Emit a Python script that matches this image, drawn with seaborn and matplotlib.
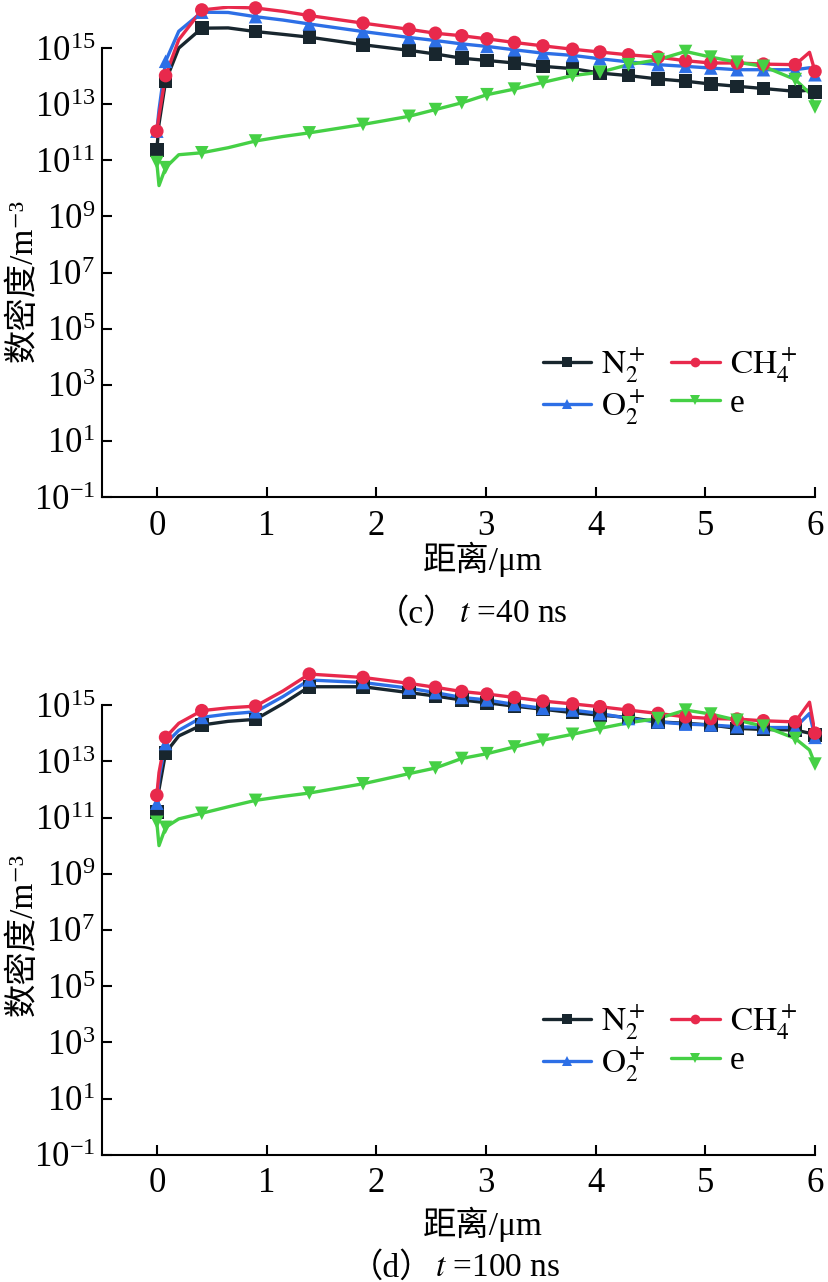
import numpy as np
import pandas as pd
import seaborn as sns
import matplotlib
matplotlib.use('Agg')
import matplotlib.pyplot as plt
from matplotlib.lines import Line2D

# positions along the gap (um); markers only where has_marker is True
x_um = [0, 0.02, 0.08, 0.2, 0.41, 0.65, 0.9, 1.15, 1.39, 1.88, 2.3, 2.54, 2.78,
        3.01, 3.26, 3.52, 3.79, 4.04, 4.3, 4.57, 4.82, 5.05, 5.29, 5.53, 5.82, 5.95, 6.0]
has_marker = [True, False, True, False, True, False, True, False] + [True] * 17 + [False, True]

species = ['$\\mathrm{N}_2^+$', '$\\mathrm{O}_2^+$', '$\\mathrm{CH}_4^+$', 'e']
colors = ['#18262e', '#2d6fe6', '#e8294c', '#45d045']
marker_shapes = ['s', '^', 'o', 'v']

# (c) t = 40 ns, log10 of number density
c_n2 = [11.37, 12.3, 13.82, 15.0, 15.71, 15.72, 15.59, 15.49, 15.39, 15.12, 14.92, 14.79, 14.64,
        14.56, 14.47, 14.35, 14.27, 14.11, 14.02, 13.90, 13.82, 13.72, 13.64, 13.56, 13.46, 13.5, 13.43]
c_o2 = [12.04, 12.8, 14.53, 15.6, 16.28, 16.27, 16.12, 16.0, 15.86, 15.59, 15.38, 15.27, 15.15,
        15.06, 14.94, 14.82, 14.74, 14.62, 14.51, 14.41, 14.35, 14.29, 14.23, 14.23, 14.23, 14.3, 14.05]
c_ch4 = [12.04, 12.6, 14.02, 15.3, 16.36, 16.46, 16.43, 16.31, 16.16, 15.89, 15.67, 15.53, 15.44,
         15.33, 15.20, 15.08, 14.96, 14.86, 14.76, 14.68, 14.55, 14.47, 14.47, 14.43, 14.41, 14.85, 14.17]
c_e = [10.92, 10.1, 10.74, 11.2, 11.27, 11.45, 11.69, 11.85, 11.98, 12.28, 12.57, 12.81, 13.05,
       13.34, 13.54, 13.78, 14.02, 14.14, 14.41, 14.59, 14.88, 14.68, 14.50, 14.35, 13.88, 13.4, 12.9]

# (d) t = 100 ns
d_n2 = [11.19, 12.0, 13.30, 13.9, 14.29, 14.42, 14.49, 15.05, 15.65, 15.65, 15.44, 15.32, 15.18,
        15.08, 14.96, 14.85, 14.73, 14.64, 14.56, 14.40, 14.35, 14.29, 14.17, 14.13, 14.11, 14.0, 13.93]
d_o2 = [11.51, 12.4, 13.63, 14.1, 14.56, 14.68, 14.76, 15.3, 15.89, 15.80, 15.60, 15.44, 15.27,
        15.18, 15.02, 14.88, 14.82, 14.70, 14.52, 14.40, 14.32, 14.29, 14.23, 14.20, 14.20, 14.7, 13.85]
d_ch4 = [11.79, 12.6, 13.85, 14.35, 14.80, 14.9, 14.96, 15.5, 16.10, 15.98, 15.77, 15.63, 15.48,
         15.39, 15.27, 15.14, 15.04, 14.94, 14.82, 14.70, 14.58, 14.52, 14.50, 14.44, 14.40, 15.1, 14.0]
d_e = [10.83, 10.0, 10.65, 10.95, 11.15, 11.38, 11.61, 11.75, 11.87, 12.20, 12.56, 12.76, 13.10,
       13.27, 13.51, 13.75, 13.96, 14.17, 14.37, 14.52, 14.82, 14.68, 14.46, 14.25, 13.81, 13.4, 12.9]

xticks = [0, 1, 2, 3, 4, 5, 6]
ytick_exps = [-1, 1, 3, 5, 7, 9, 11, 13, 15]

sns.set_style('ticks')
plt.rcParams['font.family'] = ['Liberation Serif', 'Noto Sans CJK SC', 'DejaVu Sans']
plt.rcParams['mathtext.fontset'] = 'stix'
for k in ['text.color', 'axes.labelcolor', 'xtick.color', 'ytick.color', 'axes.edgecolor']:
    plt.rcParams[k] = 'black'

palette = dict(zip(species, colors))
mk = dict(zip(species, marker_shapes))


def draw(ax, series, ytop, leg_anchor, xlab_y):
    df = pd.concat([pd.DataFrame({'x': x_um, 'n': 10.0 ** np.array(v), 'species': s, 'mark': has_marker})
                    for s, v in zip(species, series)])
    sns.lineplot(data=df, x='x', y='n', hue='species', hue_order=species, palette=palette,
                 estimator=None, lw=2.4, legend=False, ax=ax)
    sns.scatterplot(data=df[df['mark']], x='x', y='n', hue='species', style='species',
                    hue_order=species, style_order=species, palette=palette, markers=mk,
                    s=95, linewidth=0, legend=False, ax=ax, zorder=3, clip_on=False)
    ax.set_yscale('log')
    ax.set_xlim(-0.5, 6)
    ax.set_ylim(0.1, ytop)
    ax.set_xticks(xticks)
    ax.set_yticks([10.0 ** e for e in ytick_exps],
                  labels=['$\\mathdefault{10^{%d}}$' % e for e in ytick_exps])
    ax.minorticks_off()
    ax.tick_params(direction='in', length=7.5, width=1.5, labelsize=25)
    ax.tick_params(axis='x', pad=9)
    ax.tick_params(axis='y', pad=5)
    for sp in ['top', 'right']:
        ax.spines[sp].set_visible(False)
    for sp in ['left', 'bottom']:
        ax.spines[sp].set_linewidth(1.5)
    ax.spines['left'].set_bounds(0.1, 1e15)
    ax.set_xlabel('距离/μm', fontsize=24)
    ax.set_ylabel('数密度/m⁻³', fontsize=24)
    ax.xaxis.set_label_coords(0.534, xlab_y)
    ax.yaxis.set_label_coords(-0.088, 0.44)
    handles = [Line2D([], [], color=c, marker=m, lw=2.4, ms=7, mew=0)
               for c, m in zip(colors, marker_shapes)]
    ax.legend(handles, species, ncol=2, loc='upper left', bbox_to_anchor=leg_anchor,
              frameon=False, fontsize=24, handlelength=1.45, handletextpad=0.3,
              columnspacing=0.75, labelspacing=0.1, borderpad=0, borderaxespad=0)


fig = plt.figure(figsize=(8.29, 12.82), dpi=100)
ax1 = fig.add_axes([0.1230, 0.6123, 0.8601, 0.3830])
ax2 = fig.add_axes([0.1230, 0.0991, 0.8601, 0.3900])

draw(ax1, [c_n2, c_o2, c_ch4, c_e], 10 ** 16.50, (0.6185, 0.306), -0.09)
draw(ax2, [d_n2, d_o2, d_ch4, d_e], 10 ** 16.78, (0.6185, 0.302), -0.104)

# captions: CJK brackets as plain text, italic t separately
fig.text(457 / 829, 1 - 614 / 1282, '（c）', ha='right', va='center', fontsize=24)
fig.text(459 / 829, 1 - 614 / 1282, '$t$ =40 ns', ha='left', va='center', fontsize=24)
fig.text(433 / 829, 1 - 1268 / 1282, '（d）', ha='right', va='center', fontsize=24)
fig.text(435 / 829, 1 - 1268 / 1282, '$t$ =100 ns', ha='left', va='center', fontsize=24)

fig.savefig('out.png', dpi=100)
